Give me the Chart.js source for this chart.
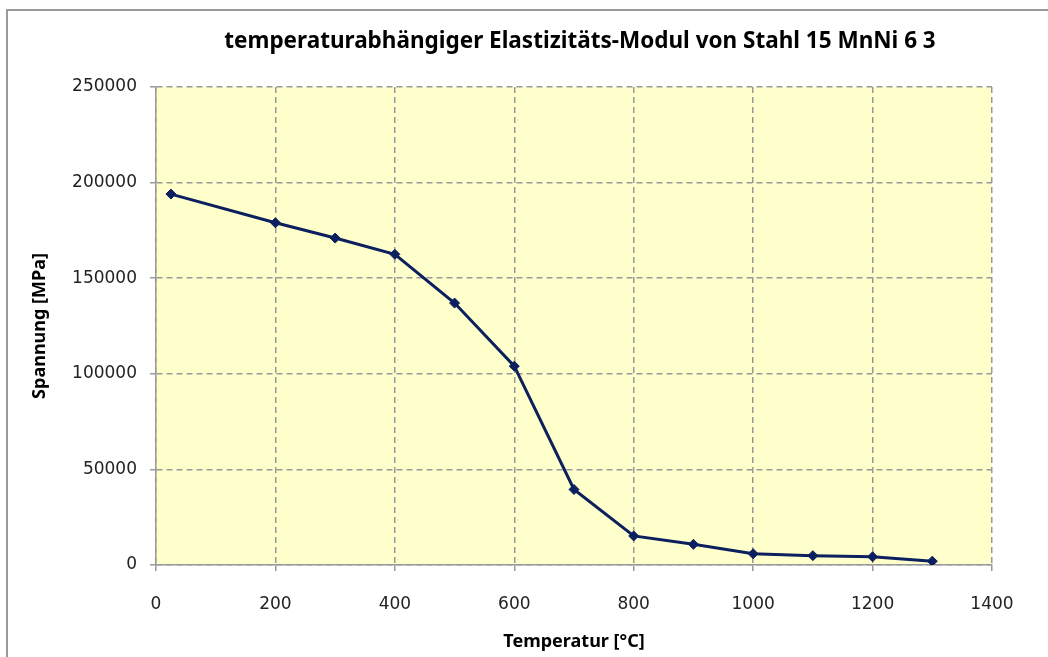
<!DOCTYPE html>
<html>
<head>
<meta charset="utf-8">
<script src="https://cdn.jsdelivr.net/npm/chart.js@4.4.0/dist/chart.umd.min.js"></script>
<style>
  html, body { margin: 0; padding: 0; background: #fff; }
  #wrap { width: 1048px; height: 657px; }
</style>
</head>
<body>
<div id="wrap"><canvas id="emodulChart" width="1048" height="657"></canvas></div>
<script>
// Temperatur in °C und E-Modul in MPa
let temperatures = [25, 200, 300, 400, 500, 600, 700, 800, 900, 1000, 1100, 1200, 1300];
let modulus = [194000, 179000, 171000, 162500, 137000, 104000, 39500, 15200, 10800, 5900, 4900, 4300, 2000];

let chartTitle = 'temperaturabhängiger Elastizitäts-Modul von Stahl 15 MnNi 6 3';
let xTitle = 'Temperatur [°C]';
let yTitle = 'Spannung [MPa]';

let points = temperatures.map((t, i) => ({ x: t, y: modulus[i] }));

// gelber Hintergrund im Diagrammbereich + grauer Rahmen
const frame = {
    id: 'frame',
    beforeDraw(chart) {
        const ctx = chart.ctx;
        const a = chart.chartArea;
        ctx.save();
        ctx.fillStyle = '#FFFFCC';
        ctx.fillRect(a.left, a.top, a.right - a.left, a.bottom - a.top);
        ctx.strokeStyle = '#9a9a9a';
        ctx.lineWidth = 2;
        ctx.strokeRect(7, 10, 1200, 800);
        ctx.restore();
    },
    // Überschrift etwas rechts der Mitte, über dem Plotbereich
    afterDraw(chart) {
        const ctx = chart.ctx;
        ctx.save();
        ctx.font = 'bold 22.5px "Noto Sans"';
        ctx.fillStyle = '#000';
        ctx.textAlign = 'center';
        ctx.textBaseline = 'middle';
        ctx.fillText(chartTitle, 580, 42);
        ctx.restore();
    }
};

let myChart = new Chart(document.getElementById('emodulChart'), {
    type: 'line',
    data: {
        datasets: [{
            label: 'E-Modul',
            data: points,
            borderColor: '#0C1F5E',
            backgroundColor: '#0C1F5E',
            borderWidth: 3,
            pointStyle: 'rectRot',
            pointRadius: 5,
            pointBorderWidth: 1,
            tension: 0
        }]
    },
    options: {
        responsive: false,
        animation: false,
        layout: { padding: { left: 0, right: 56, top: 87, bottom: 0 } },
        plugins: {
            legend: { display: false },
            tooltip: { enabled: false },
            title: { display: false }
        },
        scales: {
            x: {
                type: 'linear',
                min: 0,
                max: 1400,
                afterFit(scale) { scale.height = 92; },
                ticks: {
                    stepSize: 200,
                    color: '#222',
                    padding: 23,
                    maxRotation: 0,
                    font: { family: 'DejaVu Sans', size: 17 },
                    callback: v => String(v)
                },
                grid: { color: '#999', lineWidth: 1.5, tickLength: 6, tickColor: '#999' },
                border: { color: '#999', width: 1.5, dash: [6, 4] },
                title: {
                    display: true,
                    text: xTitle,
                    color: '#000',
                    font: { family: 'Noto Sans', size: 18, weight: 'bold' },
                    padding: { top: 4, bottom: 4 }
                }
            },
            y: {
                min: 0,
                max: 250000,
                afterFit(scale) { scale.width = 156; },
                ticks: {
                    stepSize: 50000,
                    color: '#222',
                    padding: 13,
                    font: { family: 'DejaVu Sans', size: 17 },
                    callback: v => String(v)
                },
                grid: { color: '#999', lineWidth: 1.5, tickLength: 6, tickColor: '#999' },
                border: { color: '#999', width: 1.5, dash: [6, 4] },
                title: {
                    display: true,
                    text: yTitle,
                    color: '#000',
                    font: { family: 'Noto Sans', size: 18, weight: 'bold' },
                    padding: { top: 29, bottom: 29 }
                }
            }
        }
    },
    plugins: [frame]
});
</script>
</body>
</html>
